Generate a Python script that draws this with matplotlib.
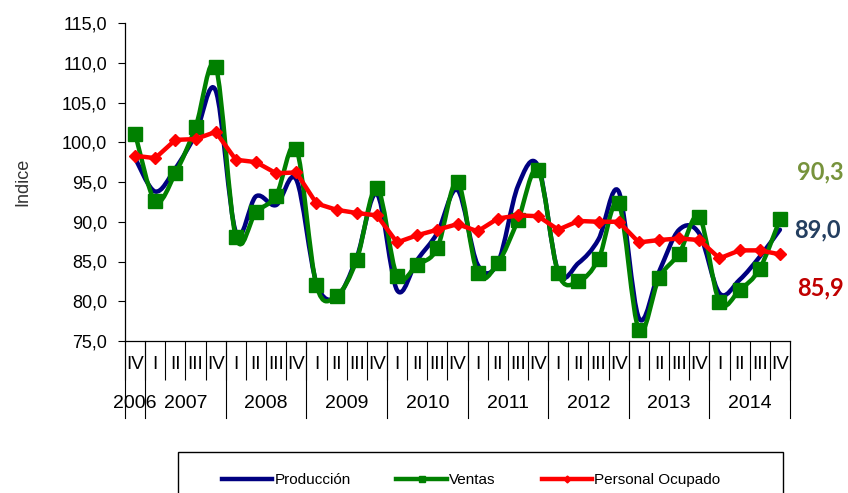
import matplotlib
matplotlib.use("Agg")
import matplotlib.pyplot as plt
from matplotlib.path import Path
from matplotlib.patches import PathPatch, Rectangle
from matplotlib.lines import Line2D

plt.rcParams['font.family'] = ['Liberation Sans', 'DejaVu Sans']

# quarters from 2006 IV to 2014 IV
quarters = ['IV'] + ['I', 'II', 'III', 'IV'] * 8
years = [2006] + [y for y in range(2007, 2015) for _ in range(4)]

produccion = [98.0, 93.8, 96.7, 101.0, 106.5, 88.7, 93.2, 92.1, 95.3, 82.3, 80.5, 85.5,
              93.5, 81.4, 85.2, 88.6, 94.0, 84.6, 84.8, 94.5, 97.0, 83.7, 84.8, 87.8,
              93.8, 77.9, 83.7, 89.0, 88.5, 81.0, 82.7, 85.6, 89.0]
ventas = [101.1, 92.6, 96.1, 101.9, 109.5, 88.1, 91.2, 93.3, 99.2, 82.0, 80.7, 85.2,
          94.3, 83.2, 84.6, 86.7, 95.0, 83.5, 84.8, 90.2, 96.5, 83.5, 82.5, 85.3,
          92.3, 76.4, 82.9, 86.0, 90.6, 79.9, 81.4, 84.1, 90.3]
personal = [98.3, 98.0, 100.3, 100.4, 101.3, 97.8, 97.5, 96.1, 96.2, 92.3, 91.5, 91.1,
            90.8, 87.4, 88.3, 89.0, 89.7, 88.8, 90.4, 90.8, 90.7, 89.0, 90.1, 90.0,
            90.0, 87.4, 87.7, 87.9, 87.7, 85.4, 86.4, 86.4, 85.9]

end_labels = ['90,3', '89,0', '85,9']

C_PROD = '#000080'
C_VENT = '#008000'
C_PERS = '#FF0000'


def smooth_path(ys):
    # Excel-style smoothed line: cubic bezier segments through the points
    xs = list(range(len(ys)))
    n = len(ys)
    verts = [(xs[0], ys[0])]
    codes = [Path.MOVETO]
    for i in range(n - 1):
        a = max(i - 1, 0)
        b = min(i + 2, n - 1)
        c1 = (xs[i] + (xs[i + 1] - xs[a]) / 6, ys[i] + (ys[i + 1] - ys[a]) / 6)
        c2 = (xs[i + 1] - (xs[b] - xs[i]) / 6, ys[i + 1] - (ys[b] - ys[i]) / 6)
        verts += [c1, c2, (xs[i + 1], ys[i + 1])]
        codes += [Path.CURVE4] * 3
    return Path(verts, codes)


fig = plt.figure(figsize=(8.48, 4.93), dpi=100)
ax = fig.add_axes([125 / 848, 1 - 341 / 493, 665 / 848, 318 / 493])

x = list(range(len(quarters)))

ax.add_patch(PathPatch(smooth_path(produccion), fill=False, edgecolor=C_PROD,
                       lw=3.2, capstyle='round', joinstyle='round', zorder=2))
ax.add_patch(PathPatch(smooth_path(ventas), fill=False, edgecolor=C_VENT,
                       lw=3.2, capstyle='round', joinstyle='round', zorder=3))
ax.plot(x, ventas, ls='none', marker='s', ms=9.5, color=C_VENT, zorder=3)
ax.plot(x, personal, color=C_PERS, lw=3.2, marker='D', ms=6.2, zorder=4)

ax.set_xlim(-0.5, len(x) - 0.5)
ax.set_ylim(75, 115)
ax.set_yticks([75 + 5 * k for k in range(9)])
ax.set_yticklabels([f"{75 + 5 * k},0" for k in range(9)], fontsize=13)
ax.tick_params(axis='y', direction='out', length=5, width=0.8, pad=8)
ax.set_ylabel('Indice', fontsize=13, color='#333333', labelpad=22)

for s in ['top', 'right']:
    ax.spines[s].set_visible(False)
ax.spines['left'].set_linewidth(0.9)
ax.spines['bottom'].set_linewidth(0.9)

# category axis: quarter labels + separators
ax.set_xticks(x)
ax.set_xticklabels([])
ax.tick_params(axis='x', which='major', length=0)
ax.set_xticks([i - 0.5 for i in range(len(x) + 1)], minor=True)
ax.tick_params(axis='x', which='minor', direction='out', length=28, width=0.8)

trans = ax.get_xaxis_transform()
for i, q in enumerate(quarters):
    ax.text(i, -0.075, q, transform=trans, ha='center', va='center', fontsize=13.5)

# year groups
bounds = [0] + [i for i in range(1, len(years)) if years[i] != years[i - 1]] + [len(years)]
for b in bounds:
    ax.plot([b - 0.5, b - 0.5], [0, -0.242], transform=trans, color='black',
            lw=0.8, clip_on=False)
for s, e in zip(bounds[:-1], bounds[1:]):
    ax.text((s + e - 1) / 2, -0.198, str(years[s]), transform=trans,
            ha='center', va='center', fontsize=14)

# end value labels
lab_font = dict(fontsize=17, fontweight='bold', family=['Lato', 'DejaVu Sans'],
                ha='center', va='center')
fig.text(820 / 848, 1 - 172 / 493, end_labels[0], color='#77933C', **lab_font)
fig.text(817 / 848, 1 - 230 / 493, end_labels[1], color='#243F60', **lab_font)
fig.text(820 / 848, 1 - 288 / 493, end_labels[2], color='#C00000', **lab_font)

# legend
fig.patches.append(Rectangle((178 / 848, -0.03), 605 / 848, 0.03 + 41 / 493,
                             transform=fig.transFigure, fill=False,
                             edgecolor='black', lw=1.0, clip_on=False))
handles = [
    Line2D([], [], color=C_PROD, lw=3.2),
    Line2D([], [], color=C_VENT, lw=3.2, marker='s', ms=5),
    Line2D([], [], color=C_PERS, lw=3.2, marker='D', ms=3.5),
]
fig.legend(handles, ['Producción', 'Ventas', 'Personal Ocupado'], ncol=3,
           loc='center', bbox_to_anchor=(471 / 848, 1 - 480 / 493),
           frameon=False, fontsize=11, handlelength=3.3, handletextpad=0.15,
           columnspacing=3.0)

fig.savefig('out.png', dpi=100)
